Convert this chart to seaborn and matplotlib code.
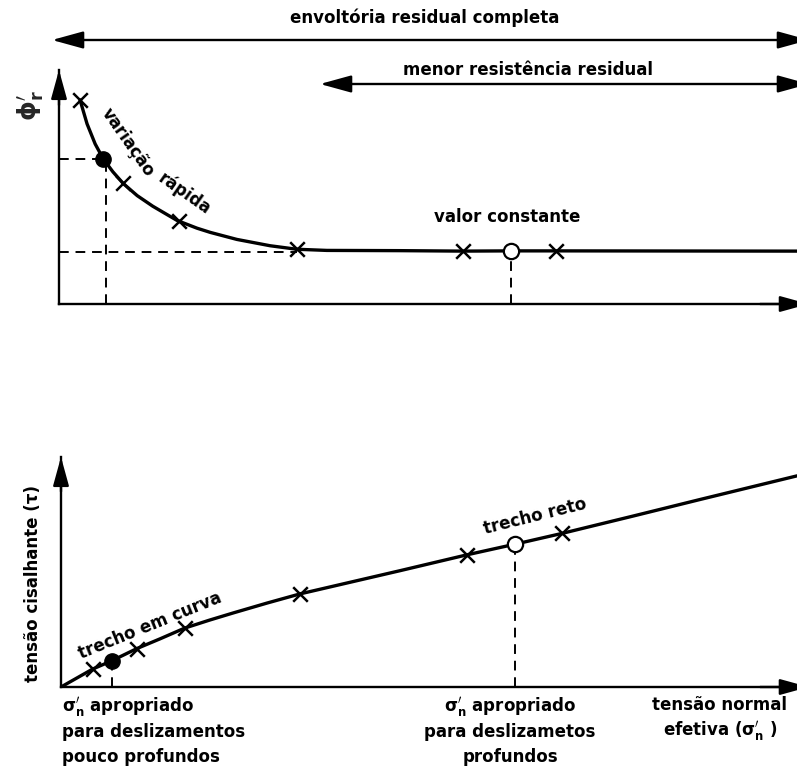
import matplotlib
matplotlib.use("Agg")
import matplotlib.pyplot as plt
from matplotlib.patches import FancyArrowPatch, ArrowStyle
import seaborn as sns
import pandas as pd

# ---------------- data (schematic units, 0-100 on each axis) ----------------
# upper diagram: residual friction angle phi'_r vs effective normal stress
top_curve_x = [2.85, 3.8, 4.9, 6.0, 7.3, 8.7, 10.6, 12.7, 16.0, 18.7, 20.5, 24.1, 28.6, 32.2,
               36.3, 46.2, 54.7, 61.2, 67.3, 100]
top_curve_y = [87.2, 77.0, 68.4, 62.0, 56.5, 51.5, 46.3, 41.8, 35.7, 32.4, 30.6, 27.6, 24.9, 23.4,
               22.9, 22.8, 22.6, 22.7, 22.7, 22.6]
top_cross_x = [2.85, 8.7, 16.3, 32.2, 54.7, 67.3]
top_cross_y = [87.2, 51.5, 35.3, 23.4, 22.6, 22.7]
top_filled_x, top_filled_y = [6.0], [62.0]
top_open_x, top_open_y = [61.2], [22.7]

# lower diagram: shear stress tau vs effective normal stress
bot_curve_x = [0, 4.3, 6.9, 10.3, 13.5, 16.8, 20.2, 23.4, 28.0, 32.5, 35.2, 46.1, 55.2, 61.7,
               68.1, 77.7, 86.8, 100]
bot_curve_y = [0, 7.8, 11.4, 16.7, 21.0, 25.6, 29.1, 32.2, 36.5, 40.5, 42.5, 50.6, 57.5, 62.1,
               66.8, 74.3, 81.5, 91.8]
bot_cross_x = [4.3, 10.3, 16.8, 32.5, 55.2, 68.1]
bot_cross_y = [7.8, 16.7, 25.6, 40.5, 57.5, 66.8]
bot_filled_x, bot_filled_y = [6.9], [11.4]
bot_open_x, bot_open_y = [61.7], [62.1]

# ---------------- figure ----------------
sns.set_style("white")
plt.rcParams["font.family"] = ["DejaVu Sans"]
plt.rcParams["mathtext.fontset"] = "dejavusans"

W, H = 797, 767
fig = plt.figure(figsize=(W / 100, H / 100), dpi=100)


def fr(x0, y_top, x1, y_bot):
    return [x0 / W, 1 - y_bot / H, (x1 - x0) / W, (y_bot - y_top) / H]


ax1 = fig.add_axes(fr(59, 70, 797, 304))
ax2 = fig.add_axes(fr(61, 457, 797, 687))

HEAD = ArrowStyle("-|>", head_length=0.8, head_width=0.22)
HEAD2 = ArrowStyle("<|-|>", head_length=0.8, head_width=0.22)
LW = 2.4
for ax in (ax1, ax2):
    ax.set_xlim(0, 100)
    ax.set_ylim(0, 100)
    ax.set_xticks([])
    ax.set_yticks([])
    for s in ("top", "right"):
        ax.spines[s].set_visible(False)
    for s in ("left", "bottom"):
        ax.spines[s].set_linewidth(1.7)
        ax.spines[s].set_color("black")
    ax.patch.set_alpha(0)
    # arrow heads on the axes
    ax.annotate("", xy=(0, 1.0), xytext=(0, 0.85), xycoords="axes fraction",
                arrowprops=dict(arrowstyle=HEAD, lw=1.7, color="black",
                                mutation_scale=22, shrinkA=0, shrinkB=0))
    ax.annotate("", xy=(1.016, 0), xytext=(0.95, 0), xycoords="axes fraction",
                arrowprops=dict(arrowstyle=HEAD, lw=1.7, color="black",
                                mutation_scale=22, shrinkA=0, shrinkB=0))

dash = dict(color="black", lw=1.4, ls=(0, (5, 3.5)))

# ---- upper curve
d_top = pd.DataFrame({"x": top_curve_x, "y": top_curve_y})
sns.lineplot(data=d_top, x="x", y="y", ax=ax1, color="black", lw=LW, sort=False)
sns.scatterplot(x=top_cross_x, y=top_cross_y, ax=ax1, marker="x", s=110, color="black",
                linewidth=1.8, zorder=4)
ax1.plot(top_filled_x, top_filled_y, "o", ms=11, color="black", zorder=5)
ax1.plot(top_open_x, top_open_y, "o", ms=11, mfc="white", mec="black", mew=1.6, zorder=5)
ax1.plot([0, top_filled_x[0]], [top_filled_y[0]] * 2, **dash)
ax1.plot([top_filled_x[0] + 0.4] * 2, [0, top_filled_y[0]], **dash)
ax1.plot([0, top_cross_x[3]], [top_cross_y[3] - 1.0] * 2, **dash)
ax1.plot([top_open_x[0]] * 2, [0, top_open_y[0] - 2.5], **dash)

# ---- lower curve
d_bot = pd.DataFrame({"x": bot_curve_x, "y": bot_curve_y})
sns.lineplot(data=d_bot, x="x", y="y", ax=ax2, color="black", lw=LW, sort=False)
sns.scatterplot(x=bot_cross_x, y=bot_cross_y, ax=ax2, marker="x", s=110, color="black",
                linewidth=1.8, zorder=4)
ax2.plot(bot_filled_x, bot_filled_y, "o", ms=11, color="black", zorder=5)
ax2.plot(bot_open_x, bot_open_y, "o", ms=11, mfc="white", mec="black", mew=1.6, zorder=5)
ax2.plot([bot_filled_x[0]] * 2, [0, bot_filled_y[0]], **dash)
ax2.plot([bot_open_x[0]] * 2, [0, bot_open_y[0] - 2.5], **dash)

for ax in (ax1, ax2):
    ax.set_xlabel("")
    ax.set_ylabel("")


# ---------------- annotations (figure pixel positions from top-left) ----------------
def P(x, y):
    return (x, H - y)


fig.add_artist(FancyArrowPatch(posA=P(52, 40), posB=P(809, 40), transform=None,
                               arrowstyle=HEAD2, lw=1.7, color="black",
                               mutation_scale=24, shrinkA=0, shrinkB=0))
fig.add_artist(FancyArrowPatch(posA=P(320, 84), posB=P(809, 84), transform=None,
                               arrowstyle=HEAD2, lw=1.7, color="black",
                               mutation_scale=24, shrinkA=0, shrinkB=0))

FS = 12
tkw = dict(transform=None, color="black", fontsize=FS, fontweight="bold")
fig.text(*P(425, 18), "envoltória residual completa", ha="center", va="center", **tkw)
fig.text(*P(528, 70), "menor resistência residual", ha="center", va="center", **tkw)
fig.text(*P(30, 106), r"$\mathbf{\phi_r'}$", ha="center", va="center", rotation=90,
         transform=None, fontsize=18)
fig.text(*P(128, 142), "variação", ha="center", va="center", rotation=-55,
         rotation_mode="anchor", **tkw)
fig.text(*P(184, 194), "rápida", ha="center", va="center", rotation=-35,
         rotation_mode="anchor", **tkw)
fig.text(*P(507, 217), "valor constante", ha="center", va="center", **tkw)

fig.text(*P(33, 583), "tensão cisalhante (τ)", ha="center", va="center", rotation=90, **tkw)
fig.text(*P(150, 626), "trecho em curva", ha="center", va="center", rotation=22,
         rotation_mode="anchor", **tkw)
fig.text(*P(535, 516), "trecho reto", ha="center", va="center", rotation=14,
         rotation_mode="anchor", **tkw)

left_lines = [r"$\mathbf{\sigma_n'}$ apropriado", "para deslizamentos", "pouco profundos"]
mid_lines = [r"$\mathbf{\sigma_n'}$ apropriado", "para deslizametos", "profundos"]
right_lines = ["tensão normal", r"efetiva ($\mathbf{\sigma_n'}$ )"]
line_y = [707, 732, 757]
for s, y in zip(left_lines, line_y):
    fig.text(*P(62, y), s, ha="left", va="center", **tkw)
for s, y in zip(mid_lines, line_y):
    fig.text(*P(510, y), s, ha="center", va="center", **tkw)
for s, y in zip(right_lines, [705, 731]):
    fig.text(*P(720, y), s, ha="center", va="center", **tkw)

fig.savefig("out.png", dpi=100)
